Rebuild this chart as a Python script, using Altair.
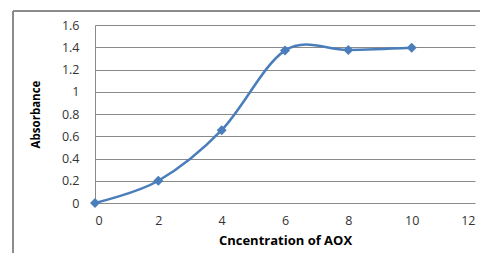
import altair as alt
import pandas as pd

conc = [0, 2, 4, 6, 8, 10]
absorb = [0.0, 0.2, 0.655, 1.37, 1.375, 1.395]

df = pd.DataFrame({"conc": conc, "abs": absorb})

x_ticks = [0, 2, 4, 6, 8, 10, 12]
y_ticks = [0, 0.2, 0.4, 0.6, 0.8, 1, 1.2, 1.4, 1.6]

blue = "#4a7ebb"

x = alt.X("conc:Q", scale=alt.Scale(domain=[0, 12], nice=False),
          axis=alt.Axis(values=x_ticks, title="Cncentration of AOX", grid=False,
                        domain=False, ticks=False, labelPadding=11, format="~g",
                        titlePadding=8, labelFontSize=12.5, titleFontSize=13,
                        titleFontWeight="bold", labelFont="Open Sans",
                        titleFont="Open Sans", labelColor="#333", titleColor="#000"))
y = alt.Y("abs:Q", scale=alt.Scale(domain=[0, 1.6], nice=False),
          axis=alt.Axis(values=y_ticks, title="Absorbance", grid=True, format="~g",
                        gridColor="#8a8a8a", gridWidth=1, domain=True,
                        domainColor="#8a8a8a", ticks=False, labelPadding=16,
                        titlePadding=20, labelFontSize=12.5, titleFontSize=11.5,
                        titleFontWeight="bold", labelFont="Open Sans",
                        titleFont="Open Sans", labelColor="#333", titleColor="#000"))

line = alt.Chart(df).mark_line(interpolate="cardinal", color=blue, strokeWidth=2.5).encode(x=x, y=y)
pts = alt.Chart(df).mark_point(shape="diamond", filled=True, size=100, color=blue, opacity=1).encode(x=x, y=y)

border = alt.Chart(df).mark_rect(fill=None, stroke="#8a8a8a", strokeWidth=1, clip=False).encode(
    x=alt.value(-82), x2=alt.value(420), y=alt.value(-14), y2=alt.value(260)
)

chart = alt.layer(border, line, pts).properties(
    width=380, height=178,
    autosize=alt.AutoSizeParams(type="none"),
    padding={"left": 87, "top": 17, "right": 5, "bottom": 50},
).configure_view(stroke=None)

chart.save("out.html", embed_options={"renderer": "svg", "actions": False})
